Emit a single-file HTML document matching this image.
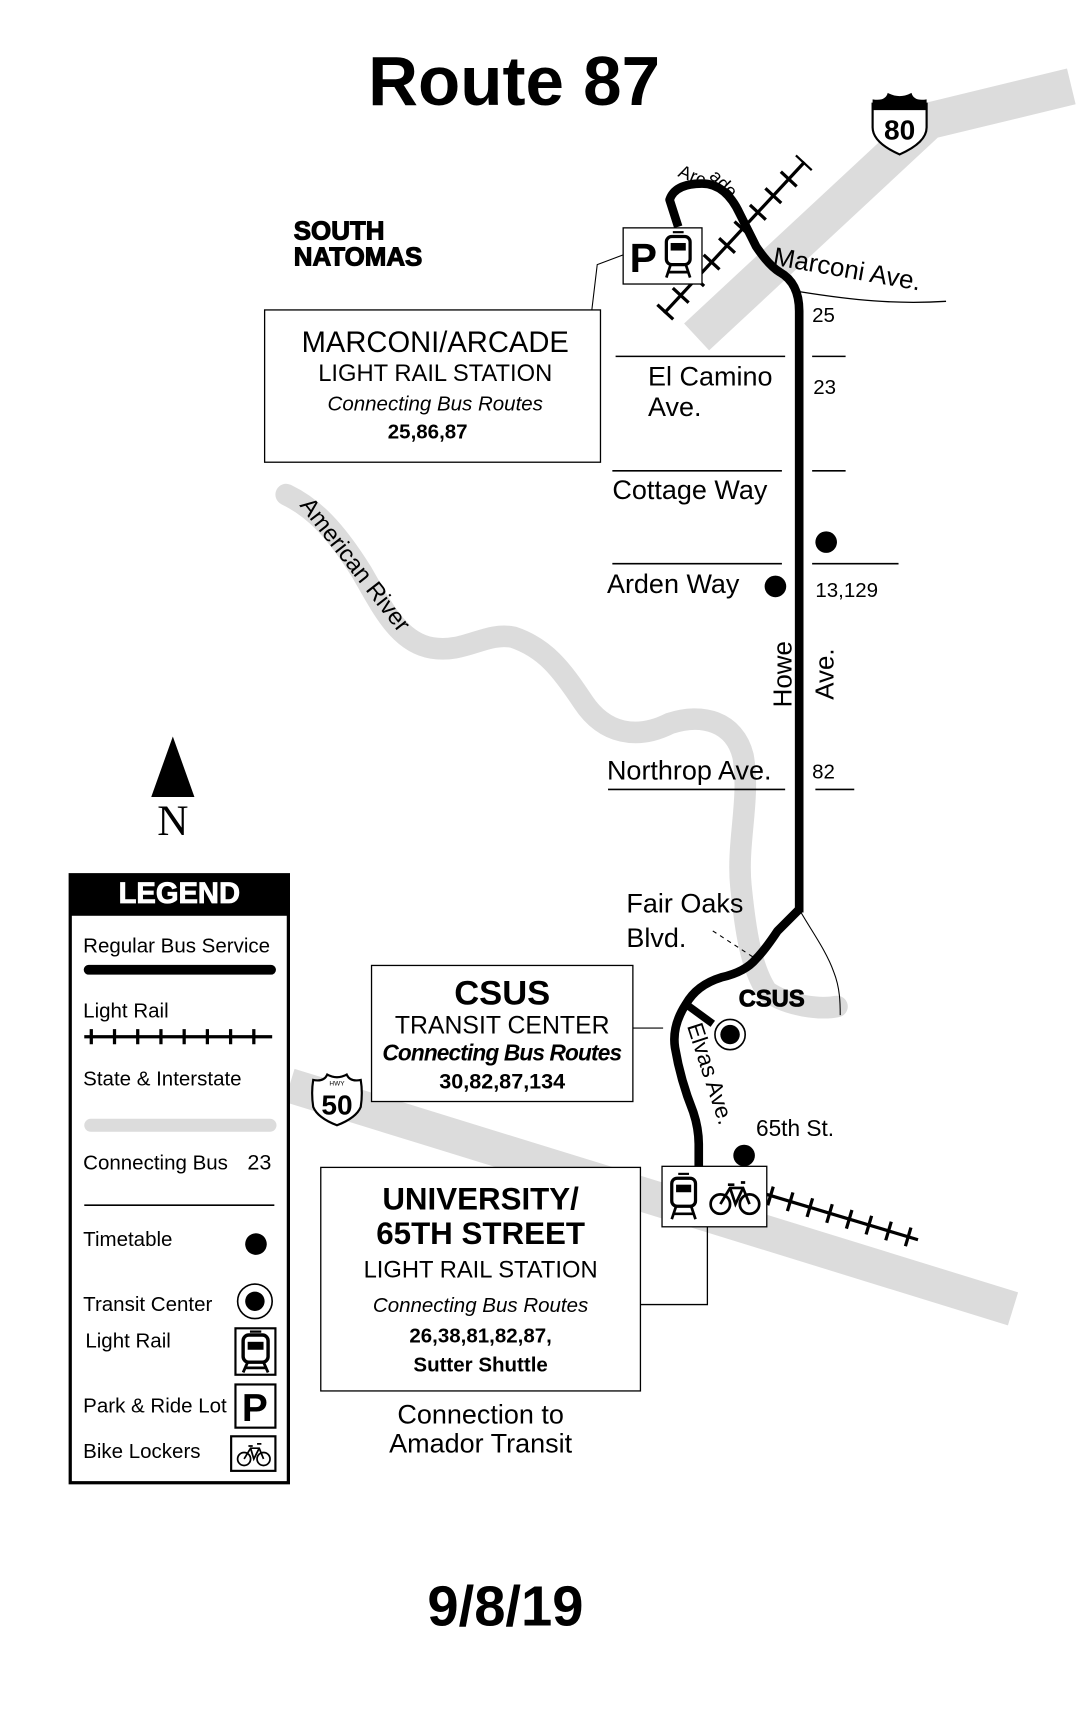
<!DOCTYPE html>
<html><head><meta charset="utf-8"><style>
html,body{margin:0;padding:0;background:#fff;}
svg{display:block;}
text{font-family:"Liberation Sans",Arial,sans-serif;fill:#000;}
</style></head><body>
<svg width="1080" height="1716" viewBox="0 0 1000 1589" xmlns="http://www.w3.org/2000/svg">
<rect width="1000" height="1589" fill="#fff"/>
<!-- freeways -->
<polyline points="645,312 860,112 992,80" fill="none" stroke="#dcdcdc" stroke-width="34"/>
<line x1="268" y1="1005" x2="938" y2="1212" stroke="#dcdcdc" stroke-width="32"/>
<!-- American River -->
<path d="M265,458 C290,470 310,490 335,530 C355,565 370,595 400,600 C430,605 450,585 475,590 C505,600 520,620 540,650 C560,680 590,685 620,670 C650,660 680,668 688,700 C695,740 682,780 686,820 C690,860 695,895 710,918 C730,932 760,935 775,932" fill="none" stroke="#dcdcdc" stroke-width="20" stroke-linecap="round"/>
<!-- Fair Oaks thin -->
<path d="M740,842 C750,860 765,880 772,900 C778,915 778,930 778,940" fill="none" stroke="#000" stroke-width="1"/>
<line x1="660" y1="862" x2="697" y2="886" stroke="#000" stroke-width="1" stroke-dasharray="4 4"/>
<!-- Marconi thin -->
<path d="M740,270 C790,278 830,282 876,279" fill="none" stroke="#000" stroke-width="1.2"/>
<!-- tracks -->
<line x1="615" y1="290" x2="745" y2="150" stroke="#000" stroke-width="3"/>
<line x1="615" y1="290" x2="745" y2="150" stroke="#000" stroke-width="20" stroke-dasharray="3 18"/>
<line x1="710" y1="1106" x2="850" y2="1148" stroke="#000" stroke-width="3"/>
<line x1="712" y1="1107" x2="850" y2="1148" stroke="#000" stroke-width="18" stroke-dasharray="3 16"/>
<!-- route -->
<path d="M740,845 L740,288 Q740,262 722,252 Q712,246 700,228 L685,198 Q672,170 650,170 Q625,170 620,185 L628,210" fill="none" stroke="#000" stroke-width="8" stroke-linejoin="round"/>
<path d="M740,842 Q730,852 720,862 Q708,880 700,888 Q690,900 668,905 Q645,912 635,930 Q622,950 625,970 Q630,1000 642,1030 Q647,1045 647,1060 L647,1082" fill="none" stroke="#000" stroke-width="8" stroke-linejoin="round"/>
<line x1="638" y1="932" x2="660" y2="948" stroke="#000" stroke-width="7"/>
<!-- cross streets -->
<g stroke="#000" stroke-width="1.5">
<line x1="570" y1="330" x2="727" y2="330"/><line x1="752" y1="330" x2="783" y2="330"/>
<line x1="567" y1="436" x2="724" y2="436"/><line x1="752" y1="436" x2="783" y2="436"/>
<line x1="567" y1="522" x2="724" y2="522"/><line x1="752" y1="522" x2="832" y2="522"/>
<line x1="563" y1="731" x2="727" y2="731"/><line x1="755" y1="731" x2="791" y2="731"/>
</g>
<circle cx="765" cy="502" r="10"/><circle cx="718" cy="543" r="10"/><circle cx="689" cy="1070" r="10"/>
<circle cx="676" cy="958" r="14" fill="#fff" stroke="#000" stroke-width="1.5"/><circle cx="676" cy="958" r="9"/>
<!-- title -->
<text x="476" y="97" font-size="64" font-weight="bold" text-anchor="middle">Route 87</text>
<!-- I-80 shield -->
<path d="M808,96 L858,96 L858,118 Q858,132 833,143 Q808,132 808,118 Z" fill="#fff" stroke="#000" stroke-width="2"/>
<path d="M808,102 L808,92 Q820,94 822,86 Q833,92 844,86 Q846,94 858,92 L858,102 Z" fill="#000"/>
<text x="833" y="129" font-size="26" font-weight="bold" text-anchor="middle">80</text>
<!-- labels -->
<text x="272" y="222" font-size="24" font-weight="900" stroke="#000" stroke-width="1">SOUTH</text>
<text x="272" y="246" font-size="24" font-weight="900" stroke="#000" stroke-width="1">NATOMAS</text>
<text transform="translate(627,163) rotate(22)" font-size="17">Arc</text>
<text transform="translate(656,164) rotate(45)" font-size="17">ade</text>
<text transform="translate(715,245) rotate(10)" font-size="24">Marconi Ave.</text>
<text x="752" y="298" font-size="19">25</text>
<text x="600" y="357" font-size="25">El Camino</text>
<text x="600" y="385" font-size="25">Ave.</text>
<text x="753" y="365" font-size="19">23</text>
<text x="567" y="462" font-size="25">Cottage Way</text>
<text x="562" y="549" font-size="25">Arden Way</text>
<text x="755" y="553" font-size="19">13,129</text>
<text transform="translate(733,655) rotate(-90)" font-size="24">Howe</text>
<text transform="translate(772,648) rotate(-90)" font-size="24">Ave.</text>
<text x="562" y="722" font-size="25">Northrop Ave.</text>
<text x="752" y="721" font-size="19">82</text>
<text x="580" y="845" font-size="25">Fair Oaks</text>
<text x="580" y="877" font-size="25">Blvd.</text>
<text x="684" y="932" font-size="22" font-weight="900" stroke="#000" stroke-width="0.8">CSUS</text>
<text transform="translate(636,950) rotate(72)" font-size="21">Elvas Ave.</text>
<text x="700" y="1052" font-size="21">65th St.</text>
<text transform="translate(277,468) rotate(52)" font-size="22">American River</text>
<!-- Marconi box -->
<polyline points="548,287 553,245 577,236" fill="none" stroke="#000" stroke-width="1"/>
<rect x="245" y="287" width="311" height="141" fill="#fff" stroke="#000" stroke-width="1.2"/>
<text x="403" y="326" font-size="27" text-anchor="middle">MARCONI/ARCADE</text>
<text x="403" y="353" font-size="22" text-anchor="middle">LIGHT RAIL STATION</text>
<text x="403" y="380" font-size="19" font-style="italic" text-anchor="middle">Connecting Bus Routes</text>
<text x="396" y="406" font-size="19" font-weight="bold" text-anchor="middle">25,86,87</text>
<!-- P + train icon -->
<rect x="577" y="211" width="73" height="52" fill="#fff" stroke="#000" stroke-width="1.2"/>
<text x="583" y="252" font-size="38" font-weight="bold">P</text>
<g transform="translate(615,215)">
<rect x="2" y="4" width="22" height="26" rx="5" fill="#fff" stroke="#000" stroke-width="3"/>
<rect x="6" y="10" width="14" height="7" fill="#000"/><line x1="8" y1="0" x2="18" y2="0" stroke="#000" stroke-width="2"/>
<path d="M6,30 L2,42 M20,30 L24,42 M4,37 H22" stroke="#000" stroke-width="2.5"/>
</g>
<!-- CSUS box -->
<line x1="586" y1="952" x2="614" y2="952" stroke="#000" stroke-width="1"/>
<rect x="344" y="894" width="242" height="126" fill="#fff" stroke="#000" stroke-width="1.2"/>
<text x="465" y="930" font-size="32" font-weight="bold" text-anchor="middle">CSUS</text>
<text x="465" y="957" font-size="23" text-anchor="middle">TRANSIT CENTER</text>
<text x="465" y="982" font-size="21" font-style="italic" font-weight="bold" text-anchor="middle" textLength="222">Connecting Bus Routes</text>
<text x="465" y="1008" font-size="20" font-weight="bold" text-anchor="middle">30,82,87,134</text>
<!-- HWY 50 shield -->
<path d="M290,1000 Q300,1002 303,995 Q312,1000 321,995 Q324,1002 334,1000 Q336,1012 334,1025 Q330,1035 312,1042 Q294,1035 290,1025 Q288,1012 290,1000 Z" fill="#fff" stroke="#000" stroke-width="2"/>
<text x="312" y="1005" font-size="6" text-anchor="middle">HWY</text>
<text x="312" y="1032" font-size="26" font-weight="bold" text-anchor="middle">50</text>
<!-- University box -->
<polyline points="593,1208 655,1208 655,1136" fill="none" stroke="#000" stroke-width="1.2"/>
<rect x="297" y="1081" width="296" height="207" fill="#fff" stroke="#000" stroke-width="1.2"/>
<text x="445" y="1120" font-size="29" font-weight="bold" text-anchor="middle">UNIVERSITY/</text>
<text x="445" y="1152" font-size="29" font-weight="bold" text-anchor="middle">65TH STREET</text>
<text x="445" y="1183" font-size="22" text-anchor="middle">LIGHT RAIL STATION</text>
<text x="445" y="1215" font-size="19" font-style="italic" text-anchor="middle">Connecting Bus Routes</text>
<text x="445" y="1243" font-size="19" font-weight="bold" text-anchor="middle">26,38,81,82,87,</text>
<text x="445" y="1270" font-size="19" font-weight="bold" text-anchor="middle">Sutter Shuttle</text>
<text x="445" y="1318" font-size="25" text-anchor="middle">Connection to</text>
<text x="445" y="1345" font-size="25" text-anchor="middle">Amador Transit</text>
<!-- train+bike icon -->
<rect x="613" y="1080" width="97" height="56" fill="#fff" stroke="#000" stroke-width="1.2"/>
<g transform="translate(620,1087)">
<rect x="2" y="4" width="22" height="26" rx="5" fill="#fff" stroke="#000" stroke-width="3"/>
<rect x="6" y="10" width="14" height="7" fill="#000"/><line x1="8" y1="0" x2="18" y2="0" stroke="#000" stroke-width="2"/>
<path d="M6,30 L2,42 M20,30 L24,42 M4,37 H22" stroke="#000" stroke-width="2.5"/>
</g>
<g fill="none" stroke="#000" stroke-width="2.5">
<circle cx="667" cy="1115" r="9"/><circle cx="694" cy="1115" r="9"/>
<path d="M667,1115 L676,1100 L688,1100 L694,1115 M676,1100 L681,1115 L688,1100 M674,1097 H680 M686,1095 L690,1095"/>
</g>
<!-- North arrow -->
<path d="M160,682 L180,738 L140,738 Z"/>
<text x="160" y="773" font-size="40" text-anchor="middle" style="font-family:'Liberation Serif',serif">N</text>
<!-- Legend -->
<rect x="65" y="810" width="202" height="563" fill="#fff" stroke="#000" stroke-width="3"/>
<rect x="65" y="810" width="202" height="38" fill="#000"/>
<text x="166" y="836" font-size="27" font-weight="900" text-anchor="middle" stroke="#fff" stroke-width="0.8" style="fill:#fff">LEGEND</text>
<text x="77" y="882" font-size="19">Regular Bus Service</text>
<line x1="82" y1="898" x2="251" y2="898" stroke="#000" stroke-width="9" stroke-linecap="round"/>
<text x="77" y="942" font-size="19">Light Rail</text>
<line x1="78" y1="960" x2="252" y2="960" stroke="#000" stroke-width="3"/>
<line x1="83" y1="960" x2="252" y2="960" stroke="#000" stroke-width="14" stroke-dasharray="3 18.5"/>
<text x="77" y="1005" font-size="19">State &amp; Interstate</text>
<line x1="84" y1="1042" x2="250" y2="1042" stroke="#dcdcdc" stroke-width="12" stroke-linecap="round"/>
<text x="77" y="1083" font-size="19">Connecting Bus</text>
<text x="229" y="1083" font-size="20">23</text>
<line x1="78" y1="1116" x2="254" y2="1116" stroke="#000" stroke-width="1.5"/>
<text x="77" y="1154" font-size="19">Timetable</text>
<circle cx="237" cy="1152" r="10"/>
<text x="77" y="1214" font-size="19">Transit Center</text>
<circle cx="236" cy="1205" r="16" fill="#fff" stroke="#000" stroke-width="1.5"/><circle cx="236" cy="1205" r="9"/>
<text x="79" y="1248" font-size="19">Light Rail</text>
<rect x="218" y="1230" width="37" height="43" fill="#fff" stroke="#000" stroke-width="2"/>
<g transform="translate(223,1232) scale(1.05)">
<rect x="2" y="4" width="22" height="24" rx="5" fill="#fff" stroke="#000" stroke-width="3"/>
<rect x="6" y="10" width="14" height="7" fill="#000"/><line x1="8" y1="1" x2="18" y2="1" stroke="#000" stroke-width="2"/>
<path d="M6,28 L2,37 M20,28 L24,37 M4,33 H22" stroke="#000" stroke-width="2.5"/>
</g>
<text x="77" y="1308" font-size="19">Park &amp; Ride Lot</text>
<rect x="218" y="1282" width="37" height="40" fill="#fff" stroke="#000" stroke-width="2"/>
<text x="236" y="1316" font-size="36" font-weight="bold" text-anchor="middle">P</text>
<text x="77" y="1350" font-size="19">Bike Lockers</text>
<rect x="214" y="1330" width="41" height="32" fill="#fff" stroke="#000" stroke-width="2"/>
<g fill="none" stroke="#000" stroke-width="1.6">
<circle cx="226" cy="1351" r="6"/><circle cx="244" cy="1351" r="6"/>
<path d="M226,1351 L232,1341 L240,1341 L244,1351 M232,1341 L235,1351 L240,1341 M230,1339 H234 M238,1337 H242"/>
</g>
<!-- date -->
<text x="468" y="1505" font-size="52" font-weight="bold" text-anchor="middle">9/8/19</text>
</svg>
</body></html>
